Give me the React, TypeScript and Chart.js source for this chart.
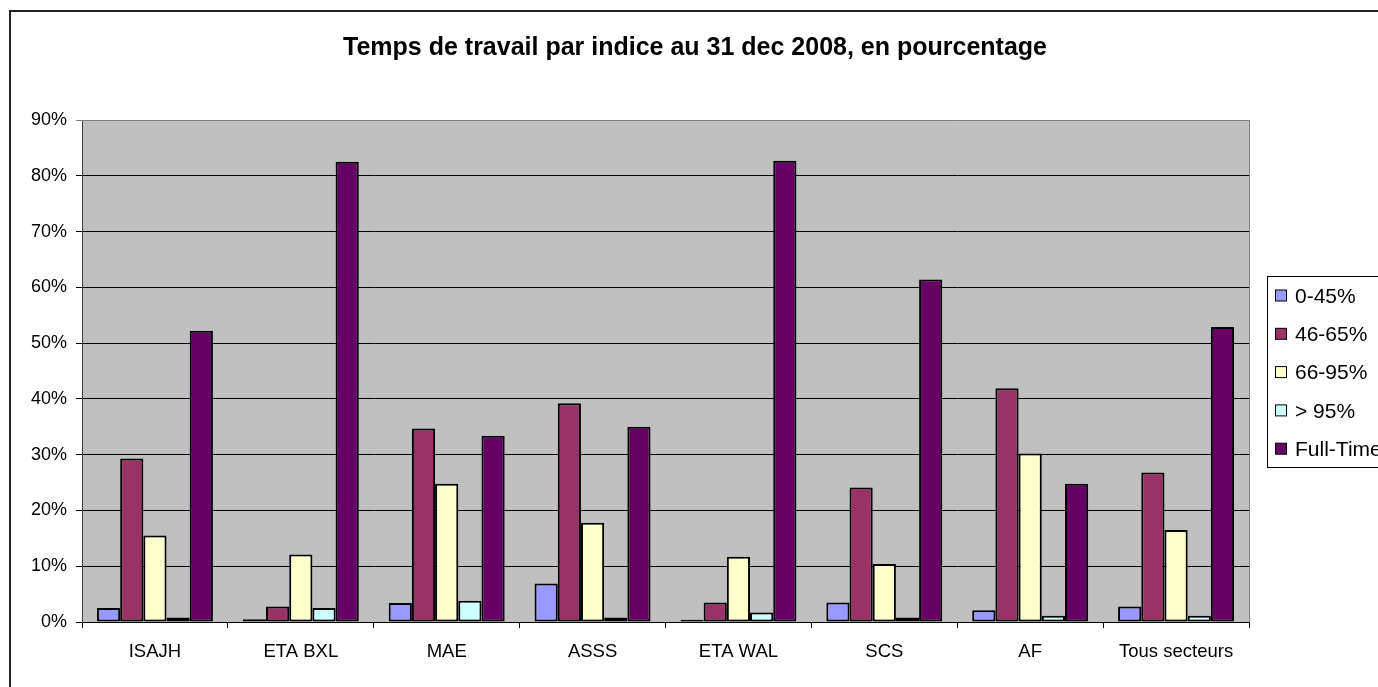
import { useEffect, useRef } from "react";
import { Chart, registerables } from "chart.js";

Chart.register(...registerables);

const titleText = "Temps de travail par indice au 31 dec 2008, en pourcentage";
const categories = ["ISAJH", "ETA BXL", "MAE", "ASSS", "ETA WAL", "SCS", "AF", "Tous secteurs"];
const seriesLabels = ["0-45%", "46-65%", "66-95%", "> 95%", "Full-Time"];
const s0to45 = [2.5, 0.5, 3.4, 6.9, 0.4, 3.5, 2.1, 2.8];
const s46to65 = [29.3, 2.8, 34.7, 39.2, 3.5, 24.1, 41.9, 26.8];
const s66to95 = [15.5, 12.1, 24.8, 17.8, 11.7, 10.4, 30.2, 16.5];
const sOver95 = [0.8, 2.5, 3.8, 0.8, 1.7, 0.8, 1.1, 1.1];
const sFullTime = [52.2, 82.5, 33.4, 35.0, 82.7, 61.4, 24.8, 52.9];
const yMin = 0;
const yMax = 90;
const yStep = 10;
const seriesColors = ["#9999FF", "#993366", "#FFFFCC", "#CCFFFF", "#660066"];

const FONT = '"Liberation Sans", Arial, sans-serif';

const framePlugin = {
  id: "framePlugin",
  beforeDraw(chart: any) {
    const { ctx, chartArea } = chart;
    ctx.save();
    ctx.fillStyle = "#FFFFFF";
    ctx.fillRect(0, 0, chart.width, chart.height);
    ctx.strokeStyle = "#222222";
    ctx.lineWidth = 2;
    ctx.strokeRect(10, 11, 1400, 720);
    ctx.fillStyle = "#C0C0C0";
    ctx.fillRect(chartArea.left, chartArea.top, chartArea.right - chartArea.left, chartArea.bottom - chartArea.top);
    ctx.restore();
  },
  afterDraw(chart: any) {
    const { ctx, chartArea } = chart;
    ctx.save();
    // plot top/right edges
    ctx.strokeStyle = "#808080";
    ctx.lineWidth = 1;
    ctx.beginPath();
    ctx.moveTo(chartArea.left, chartArea.top + 0.5);
    ctx.lineTo(chartArea.right + 0.5, chartArea.top + 0.5);
    ctx.lineTo(chartArea.right + 0.5, chartArea.bottom);
    ctx.stroke();
    // title
    ctx.fillStyle = "#000000";
    ctx.font = `bold 25px ${FONT}`;
    ctx.textAlign = "center";
    ctx.textBaseline = "middle";
    ctx.fillText(titleText, 695, 48);
    // legend
    const lx = 1267.5;
    const ly = 276.5;
    ctx.strokeStyle = "#000000";
    ctx.lineWidth = 1;
    ctx.strokeRect(lx, ly, 200, 191);
    ctx.font = `21px ${FONT}`;
    ctx.textAlign = "left";
    chart.data.datasets.forEach((ds: any, i: number) => {
      const cy = 296 + i * 38.3;
      ctx.fillStyle = ds.backgroundColor;
      ctx.fillRect(1275.5, cy - 6, 11, 11);
      ctx.strokeStyle = "#000000";
      ctx.strokeRect(1275.5, cy - 6, 11, 11);
      ctx.fillStyle = "#000000";
      ctx.fillText(ds.label, 1295, cy + 1);
    });
    ctx.restore();
  },
};

export default function App() {
  const canvasRef = useRef<HTMLCanvasElement | null>(null);

  useEffect(() => {
    if (!canvasRef.current) return;
    const seriesData = [s0to45, s46to65, s66to95, sOver95, sFullTime];
    const chart = new Chart(canvasRef.current, {
      type: "bar",
      data: {
        labels: categories,
        datasets: seriesLabels.map((label, i) => ({
          label,
          data: seriesData[i],
          backgroundColor: seriesColors[i],
          borderColor: "#000000",
          borderWidth: 2,
          borderSkipped: false,
          categoryPercentage: 0.795,
          barPercentage: 1,
        })),
      },
      options: {
        responsive: false,
        animation: false,
        events: [],
        layout: { padding: { top: 120, right: 129, left: 0, bottom: 0 } },
        plugins: {
          legend: { display: false },
          title: { display: false },
          tooltip: { enabled: false },
        },
        scales: {
          x: {
            offset: true,
            grid: {
              offset: true,
              drawOnChartArea: false,
              drawTicks: true,
              tickLength: 6,
              color: "#000000",
            },
            border: { display: true, color: "#000000", width: 1 },
            ticks: {
              color: "#000000",
              font: { family: FONT, size: 18.5 },
              padding: 13,
              maxRotation: 0,
              autoSkip: false,
            },
            afterFit(scale: any) {
              scale.height = 65;
            },
          },
          y: {
            min: yMin,
            max: yMax,
            grid: {
              color: (c: any) => (c.tick && c.tick.value === yMax ? "#808080" : "#000000"),
              lineWidth: 1,
              drawTicks: true,
              tickLength: 6,
            },
            border: { display: true, color: "#404040", width: 1 },
            ticks: {
              stepSize: yStep,
              color: "#000000",
              font: { family: FONT, size: 18 },
              padding: 9,
              callback: (v: any) => `${v}%`,
            },
            afterFit(scale: any) {
              scale.width = 82;
            },
          },
        },
      },
      plugins: [framePlugin],
    });
    return () => chart.destroy();
  }, []);

  return (
    <div style={{ position: "fixed", left: 0, top: 0, width: 1378, height: 687 }}>
      <canvas ref={canvasRef} width={1378} height={687} style={{ width: 1378, height: 687, display: "block" }} />
    </div>
  );
}
